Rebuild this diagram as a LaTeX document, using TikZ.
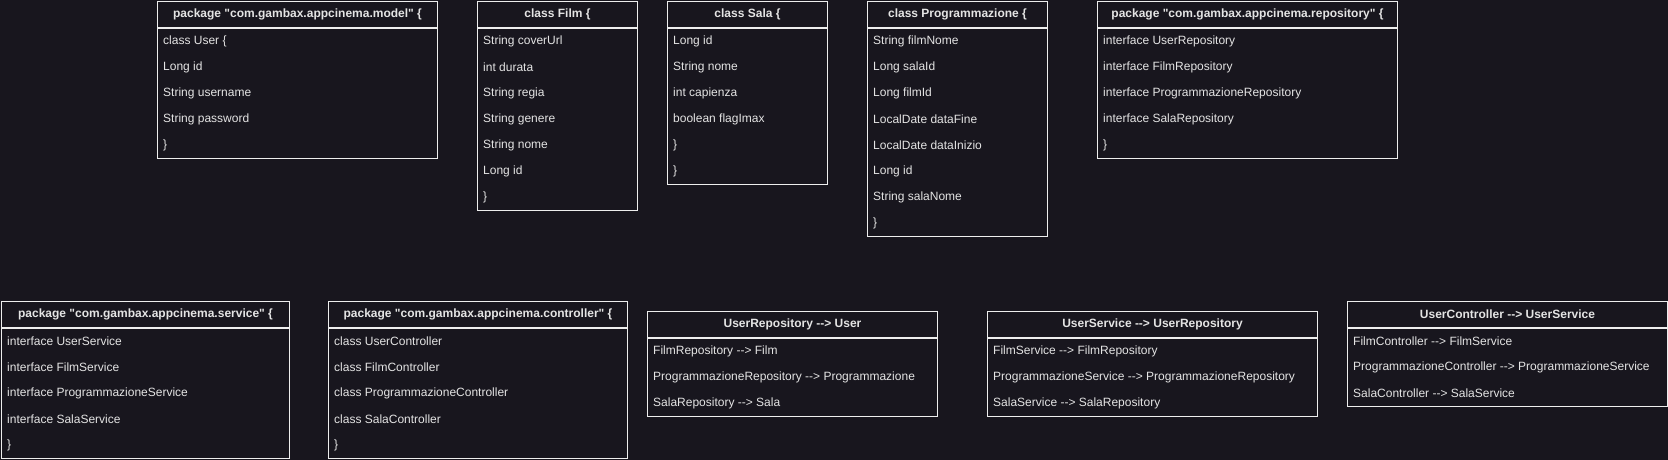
\documentclass[tikz,border=0pt]{standalone}
\usepackage{fontspec}
\setmainfont{Liberation Sans}[Ligatures=TeXOff]
\usepackage{tikz}
\usetikzlibrary{positioning,calc}

\definecolor{bgcol}{RGB}{24,22,30}
\definecolor{linecol}{RGB}{238,238,238}
\definecolor{txtcol}{RGB}{228,228,228}

\tikzset{
  head/.style={draw=linecol,line width=1pt,anchor=north west,minimum height=26pt,
    inner sep=0pt,text=txtcol,font=\bfseries\fontsize{12}{14}\selectfont},
  body/.style={draw=linecol,line width=1pt,inner sep=0pt},
  row/.style={anchor=west,inner sep=0pt,text=txtcol,font=\fontsize{12}{14}\selectfont}
}

% name, x, y, width, number of rows, header, rows
\newcommand{\umlbox}[7]{%
  \node[head,minimum width=#4] (#1) at (#2,#3) {#6};
  \node[body,minimum width=#4,minimum height=26*#5,
    below right=0pt and 0pt of #1.south west] (#1-body) {};
  \foreach \t [count=\i] in {#7}
    \node[row] (#1-\i) at ($(#1-body.north west)+(6,26*\i-13)$) {\t};
}

\begin{document}
\begin{tikzpicture}[x=1pt,y=-1pt]
  \useasboundingbox (0,0) rectangle (1668,460);
  \fill[bgcol] (0,0) rectangle (1668,460);

  % top row
  \umlbox{model}{157}{1}{280}{5}{package "com.gambax.appcinema.model" \{}
    {class User \{,Long id,String username,String password,\}}
  \umlbox{film}{477}{1}{160}{7}{class Film \{}
    {String coverUrl,int durata,String regia,String genere,String nome,Long id,\}}
  \umlbox{sala}{667}{1}{160}{6}{class Sala \{}
    {Long id,String nome,int capienza,boolean flagImax,\},\}}
  \umlbox{prog}{867}{1}{180}{8}{class Programmazione \{}
    {String filmNome,Long salaId,Long filmId,LocalDate dataFine,LocalDate dataInizio,Long id,String salaNome,\}}
  \umlbox{repo}{1097}{1}{300}{5}{package "com.gambax.appcinema.repository" \{}
    {interface UserRepository,interface FilmRepository,interface ProgrammazioneRepository,interface SalaRepository,\}}

  % bottom row
  \umlbox{service}{1}{301}{288}{5}{package "com.gambax.appcinema.service" \{}
    {interface UserService,interface FilmService,interface ProgrammazioneService,interface SalaService,\}}
  \umlbox{controller}{328}{301}{299}{5}{package "com.gambax.appcinema.controller" \{}
    {class UserController,class FilmController,class ProgrammazioneController,class SalaController,\}}
  \umlbox{repolink}{647}{311}{290}{3}{UserRepository --> User}
    {FilmRepository --> Film,ProgrammazioneRepository --> Programmazione,SalaRepository --> Sala}
  \umlbox{servlink}{987}{311}{330}{3}{UserService --> UserRepository}
    {FilmService --> FilmRepository,ProgrammazioneService --> ProgrammazioneRepository,SalaService --> SalaRepository}
  \umlbox{ctrllink}{1347}{301}{320}{3}{UserController --> UserService}
    {FilmController --> FilmService,ProgrammazioneController --> ProgrammazioneService,SalaController --> SalaService}
\end{tikzpicture}
\end{document}
